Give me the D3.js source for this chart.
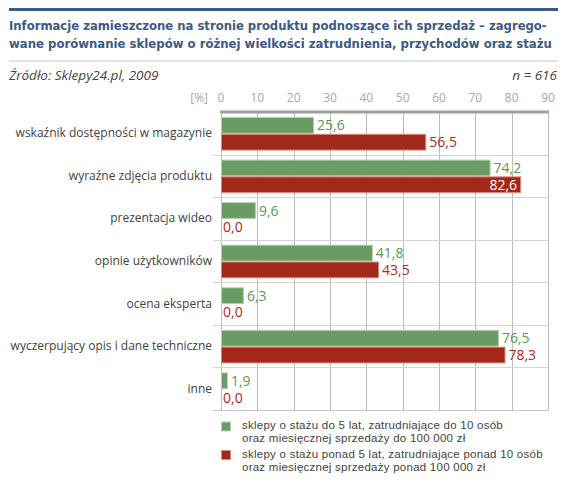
<!DOCTYPE html>
<html><head><meta charset="utf-8">
<script src="https://cdn.jsdelivr.net/npm/d3@7"></script>
<style>
body{margin:0;background:#fff;}
text{font-family:"Open Sans",sans-serif;}
</style></head>
<body>
<script>
const categories = ["wskaźnik dostępności w magazynie","wyraźne zdjęcia produktu","prezentacja wideo","opinie użytkowników","ocena eksperta","wyczerpujący opis i dane techniczne","inne"];
const smallShops = [25.6,74.2,9.6,41.8,6.3,76.5,1.9];
const largeShops = [56.5,82.6,0.0,43.5,0.0,78.3,0.0];
const ticks = [0,10,20,30,40,50,60,70,80,90];
const seriesNames = ["sklepy o stażu do 5 lat, zatrudniające do 10 osób|oraz miesięcznej sprzedaży do 100 000 zł","sklepy o stażu ponad 5 lat, zatrudniające ponad 10 osób|oraz miesięcznej sprzedaży ponad 100 000 zł"];
const colors = ["#699c62","#a2291a"];
const strokes = ["#b4d0ae","#d98a7e"];
const labelColors = ["#5a9a50","#b3281a"];

const W=579,H=490;
const svg=d3.select("body").append("svg").attr("width",W).attr("height",H);

// header
svg.append("rect").attr("x",9).attr("y",8).attr("width",549).attr("height",3).attr("fill","#3b5a85");
[["Informacje zamieszczone na stronie produktu podnoszące ich sprzedaż – zagrego-",30,538],["wane porównanie sklepów o różnej wielkości zatrudnienia, przychodów oraz stażu",48,543]].forEach(([t,y,l])=>{
  const el=svg.append("text").attr("x",9).attr("y",y).text(t).attr("fill","#3b5a85")
    .style("font-family","'DejaVu Sans Condensed','DejaVu Sans'").style("font-stretch","condensed").style("font-weight","bold").style("font-size","15px");
  const w=el.node().getComputedTextLength();
  el.style("font-size",(15*l/w).toFixed(2)+"px");
});
svg.append("rect").attr("x",9).attr("y",60.5).attr("width",549).attr("height",1).attr("fill","#c8c8c8");
svg.append("text").attr("x",9).attr("y",80).text("Źródło: Sklepy24.pl, 2009").attr("fill","#444").style("font-style","italic").style("font-size","13.5px");
svg.append("text").attr("x",557).attr("y",80).attr("text-anchor","end").text("n = 616").attr("fill","#444").style("font-style","italic").style("font-size","13.5px");

const x=d3.scaleLinear().domain([0,90]).range([221,548]);
const y0=d3.scaleBand().domain(categories).range([112,410]);
const y1=d3.scaleBand().domain([0,1]).range([5,y0.bandwidth()-4]);

// tick labels
svg.append("g").selectAll("text").data(ticks).join("text")
  .attr("x",d=>x(d)).attr("y",102).attr("text-anchor","middle").text(d=>d)
  .attr("fill","#a8a8a8").style("font-size","12px");
svg.append("text").attr("x",208).attr("y",102).attr("text-anchor","end").text("[%]").attr("fill","#a8a8a8").style("font-size","12px");

// grid
svg.append("g").selectAll("line").data(ticks).join("line")
  .attr("x1",d=>Math.round(x(d))+0.5).attr("x2",d=>Math.round(x(d))+0.5).attr("y1",112).attr("y2",410)
  .attr("stroke","#bcbcbc").attr("stroke-width",1);
// separators
svg.append("g").selectAll("line").data(categories.slice(1)).join("line")
  .attr("x1",213).attr("x2",548).attr("y1",d=>Math.round(y0(d))+0.5).attr("y2",d=>Math.round(y0(d))+0.5)
  .attr("stroke","#d4d4d4");
svg.append("line").attr("x1",213).attr("x2",548).attr("y1",410.5).attr("y2",410.5).attr("stroke","#c8c8c8");
svg.append("line").attr("x1",220).attr("x2",549).attr("y1",112).attr("y2",112).attr("stroke","#a0a0a0").attr("stroke-width",3);

// category labels
svg.append("g").selectAll("text").data(categories).join("text")
  .attr("x",212).attr("y",d=>y0(d)+y0.bandwidth()/2+4).attr("text-anchor","end").text(d=>d)
  .attr("fill","#3f3f3f").style("font-size","12px");

// bars
const series=[smallShops,largeShops];
series.forEach((vals,si)=>{
  const g=svg.append("g");
  const data=categories.map((c,i)=>({c,v:vals[i]}));
  g.selectAll("rect").data(data.filter(d=>d.v>0)).join("rect")
    .attr("x",x(0)+0.5).attr("y",d=>y0(d.c)+y1(si)+0.5)
    .attr("width",d=>x(d.v)-x(0)-1).attr("height",y1.bandwidth()-1)
    .attr("fill",colors[si]).attr("stroke",strokes[si]).attr("stroke-width",1);
  g.selectAll("text").data(data).join("text")
    .each(function(d){
      const t=d3.select(this);
      const label=d3.format(".1f")(d.v).replace(".",",");
      t.text(label).style("font-size","14px");
      const w=this.getComputedTextLength();
      const yy=y0(d.c)+y1(si)+y1.bandwidth()/2+5;
      if(x(d.v)+4+w>548){
        t.attr("x",x(d.v)-4).attr("text-anchor","end").attr("fill","#fff");
      } else {
        t.attr("x",x(d.v)+(d.v>0?3:2)).attr("fill",labelColors[si]);
      }
      t.attr("y",yy);
    });
});

// legend
series.forEach((s,si)=>{
  const ly=[421.5,450][si];
  svg.append("rect").attr("x",221.5).attr("y",ly+0.5).attr("width",9).attr("height",9)
    .attr("fill",colors[si]).attr("stroke",strokes[si]);
  seriesNames[si].split("|").forEach((line,li)=>{
    svg.append("text").attr("x",242).attr("y",ly+7.5+li*13).text(line)
      .attr("fill","#3f3f3f").style("font-family","'Liberation Sans',sans-serif").style("font-size","11.5px")
      .style("letter-spacing","0.25px");
  });
});
</script>
</body></html>
